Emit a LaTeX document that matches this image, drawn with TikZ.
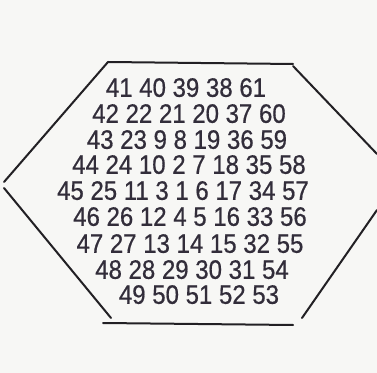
\documentclass[tikz,border=0pt]{standalone}
\usepackage{fontspec}
\setmainfont{Liberation Sans}[FakeStretch=0.9,FakeBold=0.6]
\definecolor{paper}{RGB}{247,247,245}
\definecolor{ink}{RGB}{50,45,58}
\definecolor{pencil}{RGB}{34,32,36}

\tikzset{
  numrow/.style={text=ink, font=\fontsize{20}{21}\selectfont, inner sep=0pt,
    text height=0.72em, text depth=0pt, anchor=center},
  edge/.style={draw=pencil, line width=1.5pt}
}

\begin{document}
\begin{tikzpicture}[line cap=round, line join=round, x=0.75pt, y=-0.75pt]
  \fill[paper] (0,0) rectangle (377,373);
  \useasboundingbox (0,0) rectangle (377,373);
  % hexagon, drawn side by side
  \draw[edge] (108,62) -- (293,64);
  \draw[edge] (293,66) -- (377,154);
  \draw[edge] (4,182) -- (108,62);
  \draw[edge] (4,188) -- (111,318);
  \draw[edge] (103,323) -- (293,325);
  \draw[edge] (302,318) -- (377,210);
  % rows of the spiral
  \node[numrow] (row1) at (186,92) {41 40 39 38 61};
  \node[numrow] (row2) at (189,118) {42 22 21 20 37 60};
  \node[numrow] (row3) at (187,144) {43 23 9 8 19 36 59};
  \node[numrow] (row4) at (189,169) {44 24 10 2 7 18 35 58};
  \node[numrow] (row5) at (183,195) {45 25 11 3 1 6 17 34 57};
  \node[numrow] (row6) at (190,221) {46 26 12 4 5 16 33 56};
  \node[numrow] (row7) at (190,248) {47 27 13 14 15 32 55};
  \node[numrow] (row8) at (192,274) {48 28 29 30 31 54};
  \node[numrow] (row9) at (199,299) {49 50 51 52 53};
\end{tikzpicture}
\end{document}
